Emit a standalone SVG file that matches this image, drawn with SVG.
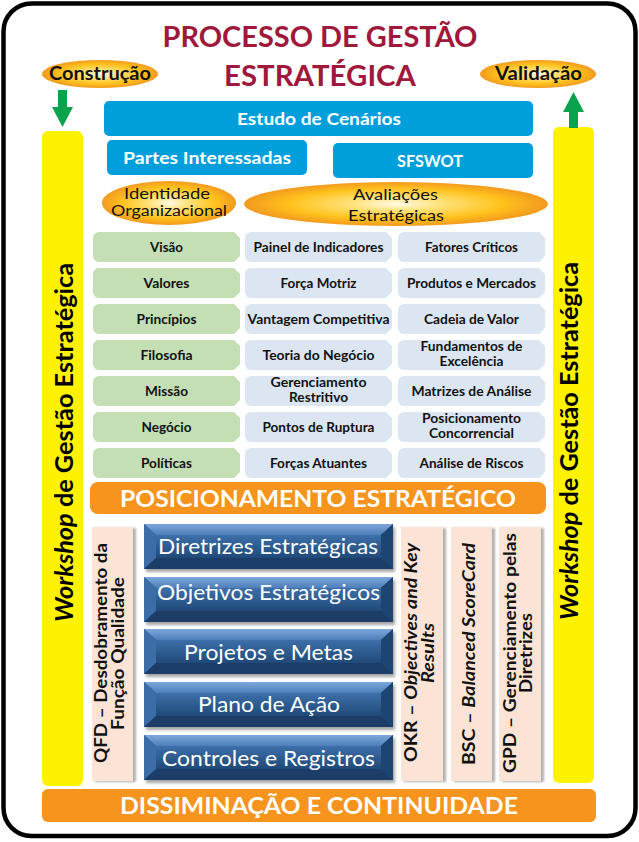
<svg xmlns="http://www.w3.org/2000/svg" xmlns:xlink="http://www.w3.org/1999/xlink" width="639" height="842" viewBox="0 0 639 842">
<defs>
<style>
text{font-family:Lato,"Liberation Sans",Arial,sans-serif;text-anchor:middle}
.title{font-size:29px;font-weight:700;fill:#A0183C}
.oval{font-size:18px;font-weight:700;fill:#111}
.box{font-size:17.5px;font-weight:700;fill:#fff}
.ell{font-size:14.5px;fill:#111}
.cell{font-size:13px;font-weight:700;fill:#111}
.band{font-size:22px;font-weight:700;fill:#fff}
.bev{font-size:21px;fill:#fff}
.side{font-size:16.5px;font-weight:700;fill:#111}
.ws{font-size:24px;font-weight:700;fill:#000}
.it{font-style:italic}
.green{fill:#C5DFB5}
.lblue{fill:#DCE6F2}
.pink{fill:#FBE4D5}
.orange{fill:#F7941D}
.cyan{fill:#009FDB}
.yellow{fill:#FFF200}
.arrow{fill:#0AA24C}
</style>
<radialGradient id="gold" cx="50%" cy="50%" r="50%">
<stop offset="0" stop-color="#FFFBEA"/>
<stop offset="0.3" stop-color="#FFE27A"/>
<stop offset="0.7" stop-color="#FFC21C"/>
<stop offset="1" stop-color="#F39A1F"/>
</radialGradient>
<linearGradient id="bevTop" x1="0" y1="0" x2="0" y2="1">
<stop offset="0" stop-color="#7DA8DB"/>
<stop offset="1" stop-color="#4E7EB9"/>
</linearGradient>
<linearGradient id="bevFace" x1="0" y1="0" x2="0" y2="1">
<stop offset="0" stop-color="#3D6FA9"/>
<stop offset="1" stop-color="#1F4A79"/>
</linearGradient>
<filter id="sh" x="-10%" y="-10%" width="130%" height="140%">
<feDropShadow dx="2" dy="3" stdDeviation="1.5" flood-color="#000" flood-opacity="0.35"/>
</filter>
<filter id="psh" x="-20%" y="-5%" width="140%" height="110%">
<feDropShadow dx="3" dy="1" stdDeviation="1.2" flood-color="#000" flood-opacity="0.3"/>
</filter>
<path id="cell" d="M6,0 H141 L147,6 V24 L141,30 H6 A6,6 0 0 1 0,24 V6 A6,6 0 0 1 6,0 Z"/>
<g id="bev">
<rect width="249" height="45" fill="#24507F"/>
<polygon points="0,0 249,0 237,11 12,11" fill="url(#bevTop)"/>
<polygon points="0,0 12,11 12,34 0,45" fill="#3C6DA6"/>
<polygon points="249,0 249,45 237,34 237,11" fill="#1D4572"/>
<polygon points="0,45 12,34 237,34 249,45" fill="#1A3E68"/>
<rect x="12" y="11" width="225" height="23" fill="url(#bevFace)"/>
</g>
</defs>

<rect id="frame" x="3.5" y="3.5" width="632" height="832.5" rx="28" fill="#fff" stroke="#000" stroke-width="4.5"/>

<g id="title">
<text class="title" x="320" y="47" textLength="315" lengthAdjust="spacingAndGlyphs">PROCESSO DE GESTÃO</text>
<text class="title" x="320" y="86" textLength="192" lengthAdjust="spacingAndGlyphs">ESTRATÉGICA</text>
</g>

<g id="construcao">
<ellipse cx="100" cy="74" rx="58" ry="14" fill="url(#gold)"/>
<text class="oval" x="100" y="80" textLength="102" lengthAdjust="spacingAndGlyphs">Construção</text>
</g>
<g id="validacao">
<ellipse cx="538" cy="74" rx="58" ry="14" fill="url(#gold)"/>
<text class="oval" x="538.5" y="80" textLength="87" lengthAdjust="spacingAndGlyphs">Validação</text>
</g>

<g id="workshop-left">
<rect class="yellow" x="42" y="131" width="41" height="655" rx="6"/>
<text class="ws" transform="translate(73,442.5) rotate(-90)" textLength="359" lengthAdjust="spacingAndGlyphs"><tspan class="it">Workshop</tspan> de Gestão Estratégica</text>
</g>
<g id="workshop-right">
<rect class="yellow" x="553" y="127" width="41" height="656" rx="6"/>
<text class="ws" transform="translate(578,441) rotate(-90)" textLength="358" lengthAdjust="spacingAndGlyphs"><tspan class="it">Workshop</tspan> de Gestão Estratégica</text>
</g>

<g id="connectors">
<path class="arrow" d="M58,90 H67 V107 H73 L62.5,127 L52,107 H58 Z"/>
<path class="arrow" d="M569,128 H578 V112 H584 L573.5,92 L563,112 H569 Z"/>
</g>

<g id="estudo">
<rect class="cyan" x="104" y="101" width="429" height="35" rx="5"/>
<text class="box" x="319" y="125" textLength="164" lengthAdjust="spacingAndGlyphs">Estudo de Cenários</text>
</g>
<g id="partes">
<rect class="cyan" x="107" y="140" width="200" height="35" rx="5"/>
<text class="box" x="207" y="164" textLength="168" lengthAdjust="spacingAndGlyphs">Partes Interessadas</text>
</g>
<g id="sfswot">
<rect class="cyan" x="333" y="143" width="200" height="35" rx="5"/>
<text class="box" x="430" y="167" textLength="66" lengthAdjust="spacingAndGlyphs">SFSWOT</text>
</g>

<g id="identidade">
<ellipse cx="169" cy="203" rx="67" ry="22" fill="url(#gold)"/>
<text class="ell" x="167" y="198.5" textLength="86" lengthAdjust="spacingAndGlyphs">Identidade</text>
<text class="ell" x="169" y="215.5" textLength="116" lengthAdjust="spacingAndGlyphs">Organizacional</text>
</g>
<g id="avaliacoes">
<ellipse cx="396" cy="204" rx="152" ry="22" fill="url(#gold)"/>
<text class="ell" x="395.5" y="200" textLength="85" lengthAdjust="spacingAndGlyphs">Avaliações</text>
<text class="ell" x="396" y="221" textLength="96" lengthAdjust="spacingAndGlyphs">Estratégicas</text>
</g>

<g id="col-identidade">
<g id="visao"><use href="#cell" class="green" x="93" y="232"/><text class="cell" x="166.5" y="251.7" textLength="33" lengthAdjust="spacingAndGlyphs">Visão</text></g>
<g id="valores"><use href="#cell" class="green" x="93" y="268"/><text class="cell" x="166.5" y="287.7" textLength="46" lengthAdjust="spacingAndGlyphs">Valores</text></g>
<g id="principios"><use href="#cell" class="green" x="93" y="304"/><text class="cell" x="166.5" y="323.7" textLength="60" lengthAdjust="spacingAndGlyphs">Princípios</text></g>
<g id="filosofia"><use href="#cell" class="green" x="93" y="340"/><text class="cell" x="166.5" y="359.7" textLength="52" lengthAdjust="spacingAndGlyphs">Filosofia</text></g>
<g id="missao"><use href="#cell" class="green" x="93" y="376"/><text class="cell" x="166.5" y="395.7" textLength="43" lengthAdjust="spacingAndGlyphs">Missão</text></g>
<g id="negocio"><use href="#cell" class="green" x="93" y="412"/><text class="cell" x="166.5" y="431.7" textLength="50" lengthAdjust="spacingAndGlyphs">Negócio</text></g>
<g id="politicas"><use href="#cell" class="green" x="93" y="448"/><text class="cell" x="166.5" y="467.7" textLength="51" lengthAdjust="spacingAndGlyphs">Políticas</text></g>
</g>

<g id="col-avaliacoes-1">
<g id="painel"><use href="#cell" class="lblue" x="245" y="232"/><text class="cell" x="318.5" y="251.7" textLength="130" lengthAdjust="spacingAndGlyphs">Painel de Indicadores</text></g>
<g id="forca-motriz"><use href="#cell" class="lblue" x="245" y="268"/><text class="cell" x="318.5" y="287.7" textLength="76" lengthAdjust="spacingAndGlyphs">Força Motriz</text></g>
<g id="vantagem"><use href="#cell" class="lblue" x="245" y="304"/><text class="cell" x="318.5" y="323.7" textLength="142" lengthAdjust="spacingAndGlyphs">Vantagem Competitiva</text></g>
<g id="teoria"><use href="#cell" class="lblue" x="245" y="340"/><text class="cell" x="318.5" y="359.7" textLength="112" lengthAdjust="spacingAndGlyphs">Teoria do Negócio</text></g>
<g id="gerenciamento"><use href="#cell" class="lblue" x="245" y="376"/><text class="cell" x="318.5" y="386.8" textLength="96" lengthAdjust="spacingAndGlyphs">Gerenciamento</text><text class="cell" x="318.5" y="402.3" textLength="59" lengthAdjust="spacingAndGlyphs">Restritivo</text></g>
<g id="pontos"><use href="#cell" class="lblue" x="245" y="412"/><text class="cell" x="318.5" y="431.7" textLength="112" lengthAdjust="spacingAndGlyphs">Pontos de Ruptura</text></g>
<g id="forcas"><use href="#cell" class="lblue" x="245" y="448"/><text class="cell" x="318.5" y="467.7" textLength="97" lengthAdjust="spacingAndGlyphs">Forças Atuantes</text></g>
</g>

<g id="col-avaliacoes-2">
<g id="fatores"><use href="#cell" class="lblue" x="398" y="232"/><text class="cell" x="471.5" y="251.7" textLength="93" lengthAdjust="spacingAndGlyphs">Fatores Críticos</text></g>
<g id="produtos"><use href="#cell" class="lblue" x="398" y="268"/><text class="cell" x="471.5" y="287.7" textLength="129" lengthAdjust="spacingAndGlyphs">Produtos e Mercados</text></g>
<g id="cadeia"><use href="#cell" class="lblue" x="398" y="304"/><text class="cell" x="471.5" y="323.7" textLength="95" lengthAdjust="spacingAndGlyphs">Cadeia de Valor</text></g>
<g id="fundamentos"><use href="#cell" class="lblue" x="398" y="340"/><text class="cell" x="471.5" y="350.8" textLength="102" lengthAdjust="spacingAndGlyphs">Fundamentos de</text><text class="cell" x="471.5" y="366.3" textLength="64" lengthAdjust="spacingAndGlyphs">Excelência</text></g>
<g id="matrizes"><use href="#cell" class="lblue" x="398" y="376"/><text class="cell" x="471.5" y="395.7" textLength="120" lengthAdjust="spacingAndGlyphs">Matrizes de Análise</text></g>
<g id="posicionamento-conc"><use href="#cell" class="lblue" x="398" y="412"/><text class="cell" x="471.5" y="422.8" textLength="99" lengthAdjust="spacingAndGlyphs">Posicionamento</text><text class="cell" x="471.5" y="438.3" textLength="85" lengthAdjust="spacingAndGlyphs">Concorrencial</text></g>
<g id="riscos"><use href="#cell" class="lblue" x="398" y="448"/><text class="cell" x="471.5" y="467.7" textLength="104" lengthAdjust="spacingAndGlyphs">Análise de Riscos</text></g>
</g>

<g id="posicionamento">
<rect class="orange" x="90" y="482" width="456" height="32" rx="8"/>
<text class="band" x="318" y="507" textLength="396" lengthAdjust="spacingAndGlyphs">POSICIONAMENTO ESTRATÉGICO</text>
</g>

<g id="qfd">
<rect class="pink" x="92" y="527" width="41" height="254" filter="url(#psh)"/>
<text class="side" transform="translate(107,653) rotate(-90)" textLength="220" lengthAdjust="spacingAndGlyphs">QFD – Desdobramento da</text>
<text class="side" transform="translate(123.5,653.5) rotate(-90)" textLength="153" lengthAdjust="spacingAndGlyphs">Função Qualidade</text>
</g>

<g id="diretrizes"><use href="#bev" x="144" y="524" filter="url(#sh)"/><text class="bev" x="268" y="554" textLength="220" lengthAdjust="spacingAndGlyphs">Diretrizes Estratégicas</text></g>
<g id="objetivos"><use href="#bev" x="144" y="577" filter="url(#sh)"/><text class="bev" x="268.5" y="600" textLength="223" lengthAdjust="spacingAndGlyphs">Objetivos Estratégicos</text></g>
<g id="projetos"><use href="#bev" x="144" y="629" filter="url(#sh)"/><text class="bev" x="268.5" y="660" textLength="169" lengthAdjust="spacingAndGlyphs">Projetos e Metas</text></g>
<g id="plano"><use href="#bev" x="144" y="682" filter="url(#sh)"/><text class="bev" x="269" y="712" textLength="142" lengthAdjust="spacingAndGlyphs">Plano de Ação</text></g>
<g id="controles"><use href="#bev" x="144" y="735" filter="url(#sh)"/><text class="bev" x="268.5" y="766" textLength="213" lengthAdjust="spacingAndGlyphs">Controles e Registros</text></g>

<g id="okr">
<rect class="pink" x="401" y="527" width="42" height="254" filter="url(#psh)"/>
<text class="side" transform="translate(417,652.5) rotate(-90)" textLength="219" lengthAdjust="spacingAndGlyphs">OKR – <tspan class="it">Objectives and Key</tspan></text>
<text class="side it" transform="translate(434,653) rotate(-90)" textLength="60" lengthAdjust="spacingAndGlyphs">Results</text>
</g>
<g id="bsc">
<rect class="pink" x="451" y="527" width="41" height="254" filter="url(#psh)"/>
<text class="side" transform="translate(474.5,654) rotate(-90)" textLength="222" lengthAdjust="spacingAndGlyphs">BSC – <tspan class="it">Balanced ScoreCard</tspan></text>
</g>
<g id="gpd">
<rect class="pink" x="499" y="527" width="42" height="254" filter="url(#psh)"/>
<text class="side" transform="translate(515.5,653) rotate(-90)" textLength="240" lengthAdjust="spacingAndGlyphs">GPD – Gerenciamento pelas</text>
<text class="side" transform="translate(532,653) rotate(-90)" textLength="80" lengthAdjust="spacingAndGlyphs">Diretrizes</text>
</g>

<g id="disseminacao">
<rect class="orange" x="42" y="789" width="554" height="33" rx="6"/>
<text class="band" x="319" y="814" textLength="398" lengthAdjust="spacingAndGlyphs">DISSIMINAÇÃO E CONTINUIDADE</text>
</g>
</svg>
